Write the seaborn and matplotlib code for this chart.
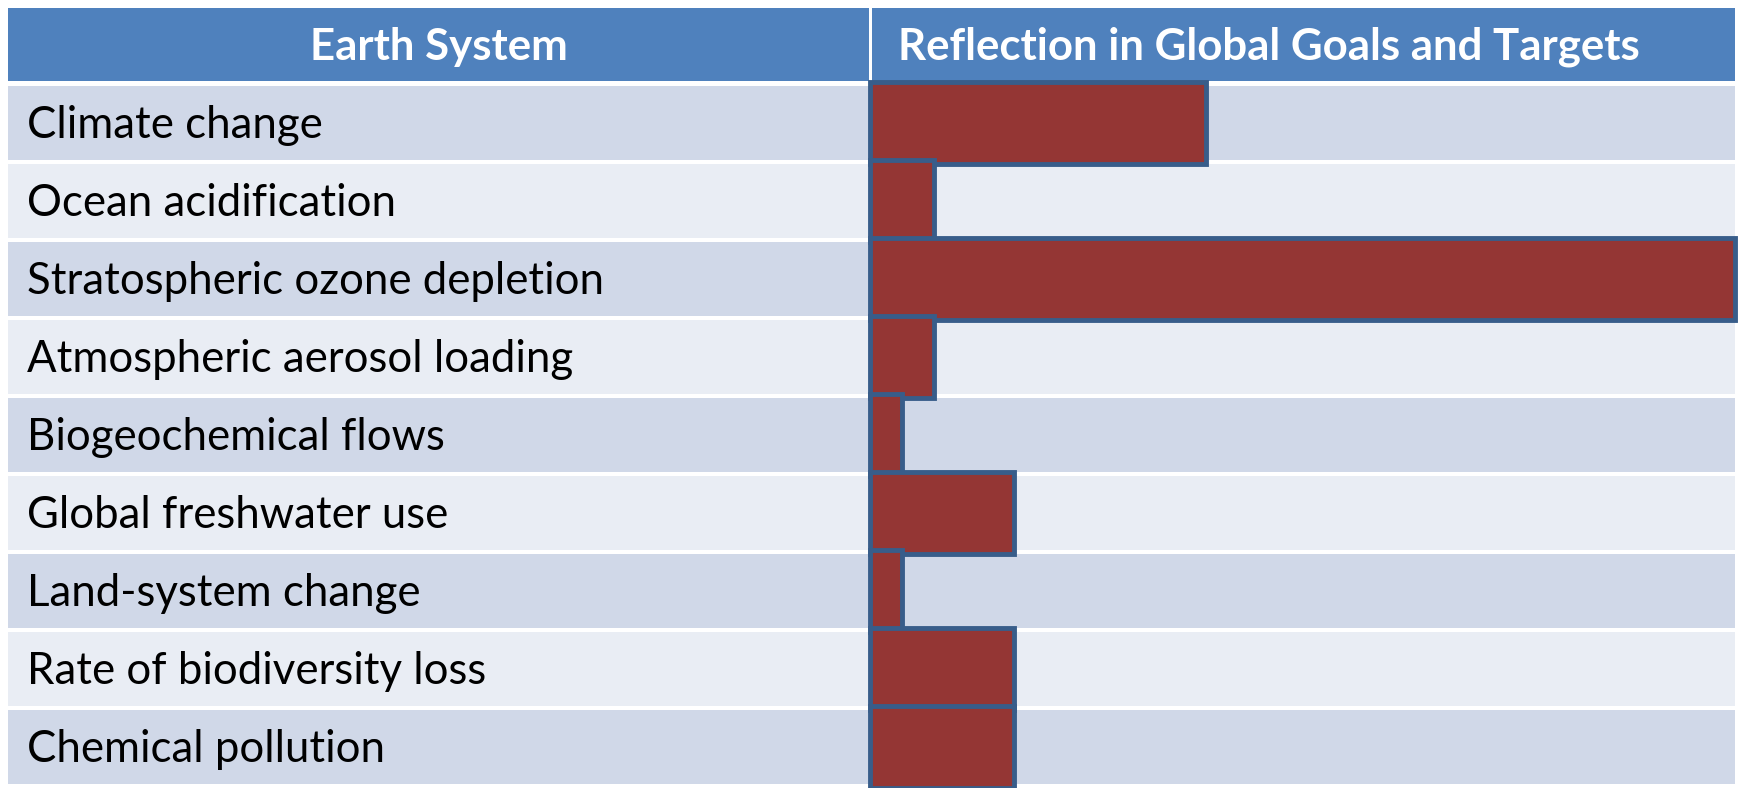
import matplotlib
matplotlib.use("Agg")
import matplotlib.pyplot as plt
import seaborn as sns
import pandas as pd

# Chart data
systems = ["Climate change", "Ocean acidification", "Stratospheric ozone depletion",
           "Atmospheric aerosol loading", "Biogeochemical flows", "Global freshwater use",
           "Land-system change", "Rate of biodiversity loss", "Chemical pollution"]
reflection = [10.5, 2, 27, 2, 1, 4.5, 1, 4.5, 4.5]
headers = ["Earth System", "Reflection in Global Goals and Targets"]

sns.set_theme(style="white")
plt.rcParams["font.family"] = ["Lato", "DejaVu Sans"]

W, H = 1739, 788
fig = plt.figure(figsize=(W / 100, H / 100), dpi=100)

row_dark = "#D0D8E8"
row_light = "#E9EDF4"
head_col = "#4F81BD"

# header cells
hl = fig.add_axes([8 / W, 1 - 81 / H, 861 / W, 73 / H])
hr = fig.add_axes([872 / W, 1 - 81 / H, 863 / W, 73 / H])
for a in (hl, hr):
    a.set_facecolor(head_col)
    a.set_xticks([])
    a.set_yticks([])
    for s in a.spines.values():
        s.set_visible(False)
hl.text(0.5, 0.47, headers[0], color="white", fontsize=31.5, fontweight="bold",
        ha="center", va="center", transform=hl.transAxes)
hr.text(0.46, 0.47, headers[1], color="white", fontsize=31.5, fontweight="bold",
        ha="center", va="center", transform=hr.transAxes)

# body
y0 = 1 - 786 / H
hgt = 702 / H
ax_l = fig.add_axes([8 / W, y0, 861 / W, hgt])
ax_r = fig.add_axes([870 / W, y0, 865 / W, hgt])

n = len(systems)
for a in (ax_l, ax_r):
    for i in range(n):
        a.axhspan(i - 0.5 + 0.02, i + 0.5 - 0.02,
                  color=row_dark if i % 2 == 0 else row_light, lw=0, zorder=0)

for i, name in enumerate(systems):
    ax_l.text(0.022, i + 0.03, name, fontsize=31.5, color="black", ha="left", va="center",
              transform=ax_l.get_yaxis_transform())

df = pd.DataFrame({"system": systems, "value": reflection})
sns.barplot(data=df, x="value", y="system", orient="h", color="#943634",
            saturation=1, edgecolor="#385D8A", linewidth=3.5, width=1.06, ax=ax_r)
for p in ax_r.patches:
    p.set_clip_on(False)
    p.set_zorder(3)

ax_r.set_xlim(0, max(reflection))
for a in (ax_l, ax_r):
    a.set_ylim(n - 0.5, -0.5)
    a.set_xticks([])
    a.set_yticks([])
    a.set_xlabel("")
    a.set_ylabel("")
    a.set_facecolor("white")
    for s in a.spines.values():
        s.set_visible(False)

plt.savefig("out.png", dpi=100)
